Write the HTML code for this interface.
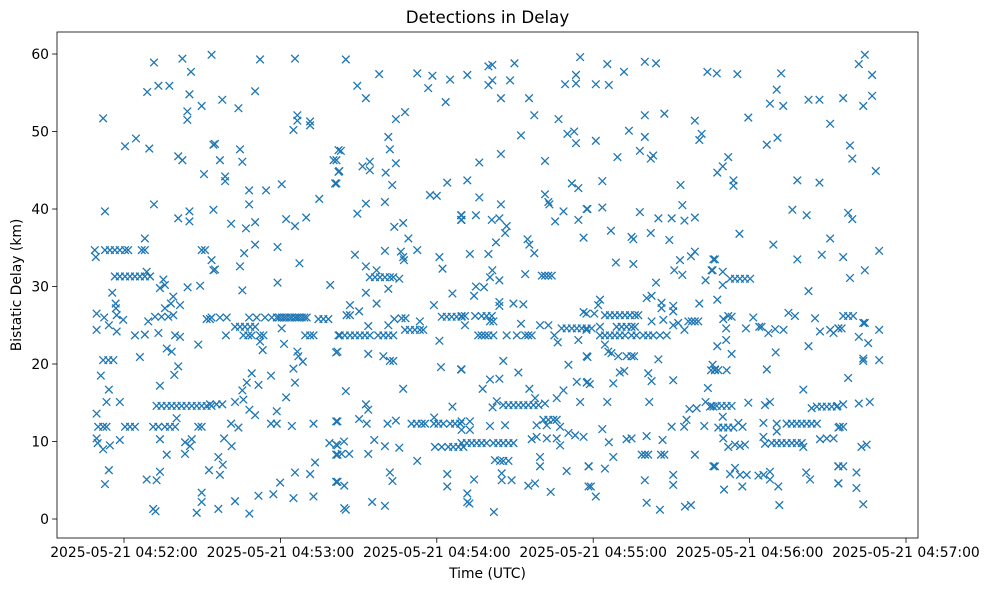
<!DOCTYPE html>
<html>
<head>
<meta charset="utf-8">
<style>
  html, body { margin: 0; padding: 0; background: #fff; }
  svg { display: block; font-family: "DejaVu Sans", "Liberation Sans", sans-serif; }
</style>
</head>
<body>
<svg id="chart" width="988" height="590" viewBox="0 0 988 590" xmlns="http://www.w3.org/2000/svg">
  <rect x="0" y="0" width="988" height="590" fill="#ffffff"/>
  <text x="487.5" y="23" font-size="16.7" text-anchor="middle" fill="#000">Detections in Delay</text>
  <g id="marks"></g>
  <rect x="57" y="32" width="861" height="506" fill="none" stroke="#000" stroke-width="0.8"/>
  <g id="xticks"></g>
  <g id="yticks"></g>
  <text x="487.5" y="578" font-size="13.9" text-anchor="middle" fill="#000">Time (UTC)</text>
  <text x="0" y="0" font-size="13.9" text-anchor="middle" fill="#000" transform="translate(21,285) rotate(-90)">Bistatic Delay (km)</text>
</svg>
<script>
// seconds after 04:51:00 UTC
const times = [
71.5,82.4,85.7,93.6,68.9,73.2,77.4,85.1,52.0,84.3,84.3,89.8,60.4,64.6,69.7,80.8,82.4,90.7,94.3,71.5,52.7,80.8,85.1,85.1,94.3,68.0,
48.8,52.7,54.6,56.5,58.4,60.4,61.6,66.8,68.0,89.8,91.1,49.2,93.6,94.3,
56.5,58.4,60.4,62.3,64.2,66.1,68.0,70.0,
68.7,75.1,73.8,75.7,55.5,84.4,89.2,56.8,56.9,78.9,78.0,81.5,75.7,49.5,52.4,57.2,59.7,69.3,71.9,74.4,77.0,78.9,91.7,93.0,49.5,54.2,57.2,64.2,68.0,73.2,79.6,81.5,88.5,76.4,78.3,
52.0,54.0,55.9,66.1,51.1,80.8,79.3,54.2,73.8,53.3,58.4,49.5,
72.5,74.4,76.4,78.3,80.2,82.1,84.0,86.0,87.9,89.8,91.7,93.6,80.2,
50.1,52.0,53.3,60.4,62.3,64.2,71.2,73.2,75.7,77.6,79.6,88.5,89.8,
49.5,49.9,52.0,54.6,58.4,73.8,83.4,85.3,86.0,76.4,83.4,54.2,52.7,68.7,72.5,73.8,92.6,89.8,89.8,87.9,71.2,72.1,
112.2,125.6,110.3,97.7,103.9,126.5,126.5,125.0,131.4,131.4,94.9,104.5,96.8,105.4,98.8,98.8,140.4,142.3,142.3,141.0,108.0,114.5,120.5,108.0,134.9,
101.1,106.8,110.3,122.2,125.6,129.9,110.3,106.1,118.9,94.9,104.5,127.3,105.4,118.9,139.1,
93.6,96.8,99.4,108.0,110.9,114.1,116.7,118.6,120.5,122.4,124.4,126.3,128.2,130.1,134.6,136.5,138.4,119.5,121.5,123.5,125.5,127.2,129.2,
102.6,104.5,106.4,108.4,110.3,120.5,
105.8,107.7,109.0,112.2,113.5,129.5,131.4,132.7,99.1,142.3,
112.2,113.2,121.4,126.5,126.9,128.6,125.0,141.4,109.0,116.4,107.1,111.6,125.6,105.4,105.8,122.2,
93.0,95.5,97.7,102.6,108.1,110.3,118.6,116.4,118.6,124.4,132.7,141.4,101.1,103.9,98.4,101.3,138.8,141.4,141.4,96.2,97.9,96.8,133.3,125.6,131.4,119.9,141.4,102.6,111.6,117.3,125.0,132.7,96.2,108.1,
145.1,157.9,172.5,178.3,185.1,149.5,176.7,152.8,183.4,164.3,167.8,161.4,162.0,143.2,141.5,142.6,141.5,151.5,154.3,154.3,160.4,164.3,162.9,184.0,177.4,180.0,152.8,160.1,149.5,163.7,167.1,189.3,189.3,169.1,
148.6,160.1,166.2,167.1,167.4,172.5,181.0,182.2,152.8,156.9,
154.3,156.3,158.2,160.1,162.0,163.3,165.6,
161.4,152.8,186.0,156.9,146.7,145.4,146.7,150.2,178.9,
181.9,183.8,185.7,187.6,189.5,
153.7,161.4,163.7,166.5,168.0,173.5,
167.8,169.7,171.6,173.5,174.8,
142.8,144.7,146.7,148.6,150.5,152.4,154.3,157.5,159.5,161.4,163.3,
141.9,153.7,159.5,162.0,163.3,181.0,181.6,189.3,145.1,167.1,152.8,153.7,186.0,150.2,153.1,141.9,161.1,164.3,
170.3,172.3,174.2,175.5,178.9,180.6,182.5,185.1,187.0,189.0,179.0,
144.4,141.9,141.9,143.5,146.4,153.7,156.0,160.1,165.6,
179.3,181.9,184.4,186.3,188.3,190.2,
172.5,162.0,163.0,184.0,184.0,141.9,144.5,155.2,160.1,144.5,145.1,
191.7,199.8,201.3,209.8,199.8,201.3,208.1,235.0,233.4,233.4,229.2,204.6,215.4,217.4,226.7,212.3,230.1,232.7,233.4,204.6,196.3,221.5,191.7,231.8,234.3,196.3,204.6,221.5,222.8,223.2,
189.5,189.5,195.0,201.1,204.0,228.6,225.4,234.3,237.5,206.8,206.2,202.7,214.8,215.5,217.4,236.3,192.7,199.8,201.3,200.4,204.0,213.9,
220.3,221.5,222.8,224.1,
195.0,198.1,194.3,204.0,204.0,209.4,213.2,236.3,
189.5,190.8,194.7,197.2,199.1,201.1,190.8,200.4,201.7,212.3,219.6,222.8,
195.9,197.2,198.5,199.8,201.7,206.8,210.7,213.9,215.1,216.4,
227.9,229.8,231.8,233.7,235.6,237.5,225.1,226.4,234.3,
237.5,189.5,205.5,211.3,230.5,200.4,204.0,197.6,215.5,228.6,233.7,237.5,226.0,235.0,203.0,201.4,
205.5,207.5,209.4,211.3,213.2,215.1,217.1,219.0,221.5,217.7,
220.9,222.8,224.7,226.0,218.3,222.2,227.3,230.5,233.1,236.3,189.5,192.7,189.5,192.7,200.4,206.2,
189.5,191.5,193.4,195.3,197.2,199.1,201.7,203.6,205.5,207.5,209.4,216.4,218.3,222.2,226.0,227.3,
204.3,205.5,207.5,202.3,219.6,219.6,238.2,194.3,204.9,204.9,208.7,215.1,217.7,229.8,223.7,238.2,191.7,191.7,192.5,201.9,
245.4,251.8,259.8,264.1,241.0,246.0,283.8,259.8,267.3,279.0,253.7,259.8,281.6,280.7,241.0,249.3,257.9,263.0,262.1,243.5,273.5,274.2,237.8,243.5,257.9,265.0,270.1,275.0,279.0,
246.8,254.7,255.4,262.1,269.2,248.7,255.4,273.3,277.5,279.0,271.1,274.2,286.1,285.4,283.1,264.1,260.5,262.4,242.6,241.9,266.2,266.2,270.7,270.7,280.7,237.4,240.4,
244.5,246.4,248.3,250.2,252.2,254.1,256.0,257.3,
262.4,266.9,270.7,272.6,275.0,276.5,277.8,279.0,280.3,237.4,239.4,242.6,
242.6,244.5,246.4,248.3,250.2,252.2,254.7,256.6,259.2,261.1,263.0,265.6,268.2,
249.0,250.9,252.8,254.7,256.0,
244.5,245.8,247.0,249.6,252.8,254.7,255.7,237.8,265.0,250.2,251.9,261.1,262.4,270.7,237.8,238.7,247.7,285.2,286.7,284.0,245.4,261.5,276.9,279.7,283.1,284.8,286.1,275.8,274.9,270.1,282.6,243.5,246.0,252.8,254.7,260.5,266.6,
258.6,259.9,261.1,266.0,267.3,247.7,279.0,238.3,244.5,286.1,259.8,270.7,270.7,239.1,241.0,260.5,265.6,275.2,277.5,
287.4,295.3,312.1,310.4,307.8,312.9,322.6,326.8,299.5,330.9,306.6,310.7,291.8,289.7,287.6,293.8,293.8,318.3,326.8,316.4,321.9,296.1,309.1,330.9,286.7,318.3,327.7,285.8,289.7,
292.5,294.4,296.3,298.2,300.2,289.7,322.6,287.6,
314.9,317.4,289.9,291.8,293.1,291.0,301.4,298.6,303.7,304.6,307.2,309.8,313.0,325.1,327.0,330.9,332.2,334.1,
287.6,291.0,293.1,310.0,322.6,285.8,286.7,291.2,288.0,306.6,320.6,
285.4,287.4,289.3,291.2,293.1,299.5,305.9,307.8,323.8,325.8,327.7,329.6,331.5,333.4,
289.7,288.0,289.9,291.8,293.8,295.7,297.3,
314.2,316.2,318.1,320.0,321.9,323.8,325.8,305.3,310.4,310.4,334.1,
308.5,310.4,312.3,314.2,316.2,318.1,320.0,289.9,291.8,294.4,296.3,298.2,305.3,305.9,320.6,327.0,329.6,332.2,
286.7,294.4,292.5,296.3,298.9,303.4,305.3,307.8,307.8,290.2,297.2,311.0,321.7,323.2,334.1,334.1,311.4,
344.2,341.9,347.0,335.9,343.6,347.0,338.5,339.4,348.4,337.8,339.4,335.9,349.7,344.2,338.5,335.9,337.8,339.7,334.0,335.3,343.6,344.2,341.9,345.5,349.7,343.6,343.6,349.7,337.8,
333.7,335.9,341.9,346.1,334.6,335.9,342.9,344.9,334.0,335.9,341.0,334.0,341.0,343.6
];
// bistatic delay, km
const delays = [
58.9,59.4,57.7,59.9,55.1,55.9,55.9,54.8,51.7,52.6,51.5,53.3,48.1,49.1,47.8,46.8,46.3,44.5,48.3,40.6,39.7,38.8,39.7,38.4,39.9,36.2,
34.7,34.7,34.7,34.7,34.7,34.7,34.7,34.7,34.7,34.7,34.7,33.8,33.4,32.1,
31.3,31.3,31.3,31.3,31.3,31.3,31.3,31.3,
31.9,30.9,29.8,30.2,29.2,29.9,30.1,27.8,27.2,28.7,27.8,27.6,27.2,26.5,26.0,26.3,25.7,25.5,26.1,26.1,26.1,26.3,25.8,25.8,24.4,25.0,24.2,23.7,23.8,24.0,23.7,23.5,22.5,22.0,21.6,
20.5,20.5,20.5,20.9,18.5,19.7,18.6,16.7,17.2,15.1,15.1,13.6,
14.6,14.6,14.6,14.6,14.6,14.6,14.6,14.6,14.6,14.6,14.6,14.6,13.0,
11.9,11.9,11.9,11.9,11.9,11.9,11.9,11.9,11.9,11.9,11.9,11.9,11.9,
10.4,9.8,9.0,9.5,10.2,10.3,9.9,9.4,10.3,8.3,8.4,6.3,4.5,5.1,5.0,6.1,6.3,3.4,2.2,0.8,1.3,1.0,
59.3,59.4,55.2,54.1,53.0,52.1,51.4,50.2,51.3,50.8,48.4,47.7,46.3,46.1,44.2,43.6,46.3,47.6,44.8,43.3,42.4,42.4,43.2,40.6,41.3,
38.1,37.5,38.3,38.7,37.8,38.9,35.4,34.3,35.1,32.2,32.6,33.0,29.5,30.5,30.2,
26.0,26.0,26.0,26.0,26.0,26.0,26.0,26.0,26.0,26.0,26.0,26.0,26.0,26.0,25.8,25.8,25.8,26.0,26.0,26.0,26.0,26.0,26.0,
24.8,24.8,24.8,24.8,24.8,24.6,
23.7,23.7,23.7,23.7,23.7,23.7,23.7,23.7,23.7,23.7,
22.9,21.8,22.6,21.6,21.0,20.3,19.4,21.5,18.8,18.5,17.6,17.3,17.6,16.6,15.4,15.7,
14.8,14.8,14.8,15.1,14.1,13.4,13.9,12.3,12.3,12.0,12.3,12.6,12.3,11.8,10.4,9.4,9.8,9.6,8.3,8.0,7.0,5.7,7.3,6.0,5.8,4.7,4.8,2.3,3.0,3.2,2.7,2.9,1.3,0.7,
59.3,57.4,57.5,57.2,56.7,55.9,55.6,54.3,53.8,51.6,52.5,49.3,47.7,47.5,46.3,44.9,43.3,45.5,46.1,45.0,44.7,45.9,43.1,43.4,41.8,41.7,40.7,40.9,39.4,37.7,38.2,39.2,38.6,36.2,
34.1,34.6,34.5,33.8,33.4,34.7,33.8,32.3,32.6,32.1,
31.2,31.2,31.2,31.2,31.2,31.2,31.0,
29.7,29.2,29.1,27.8,27.6,26.3,26.3,26.8,27.6,
26.1,26.1,26.1,26.1,26.1,
24.9,25.0,25.8,25.9,25.9,25.5,
24.4,24.4,24.4,24.4,24.4,
23.7,23.7,23.7,23.7,23.7,23.7,23.7,23.7,23.7,23.7,23.7,
21.6,21.3,21.0,20.4,20.4,23.0,19.6,19.3,16.5,16.8,14.8,14.1,14.5,12.9,12.3,12.6,12.3,12.7,
12.3,12.3,12.3,12.3,12.3,12.3,12.3,12.3,12.3,12.3,13.1,
10.0,9.5,8.3,8.4,8.4,8.4,10.2,9.4,9.2,
9.3,9.3,9.3,9.3,9.3,9.3,
7.5,6.0,4.9,5.8,4.2,4.8,4.3,2.2,1.7,1.4,1.2,
57.3,58.4,58.6,58.8,56.0,56.6,56.6,59.6,57.3,56.2,56.1,54.3,54.3,52.1,51.6,49.5,49.7,50.0,48.5,47.1,46.0,46.2,43.7,43.3,42.7,41.5,40.6,41.9,40.9,40.6,
39.2,38.6,39.2,38.6,38.8,39.7,38.4,38.6,40.0,37.8,36.9,35.7,36.1,35.4,34.3,36.3,34.2,34.2,32.1,31.2,30.8,31.6,
31.4,31.4,31.4,31.4,
30.0,29.9,28.8,28.0,27.5,27.8,27.7,26.7,
26.2,26.2,26.2,26.2,26.2,26.2,25.0,25.5,25.5,25.2,25.0,25.0,
23.7,23.7,23.7,23.7,23.7,23.7,23.7,23.7,23.7,23.7,
24.6,24.6,24.6,24.6,24.6,24.6,23.7,22.8,23.1,
21.0,19.3,20.4,18.9,19.9,18.0,18.1,16.8,16.8,16.6,17.7,17.6,15.6,15.1,15.2,14.4,
14.7,14.7,14.7,14.7,14.7,14.7,14.7,14.7,14.9,15.6,
12.8,12.8,12.8,12.8,12.1,12.1,11.9,11.1,10.8,10.6,12.6,12.6,11.5,11.5,12.0,12.1,
9.8,9.8,9.8,9.8,9.8,9.8,9.8,9.8,9.8,9.8,9.8,10.3,10.6,10.4,10.4,9.5,
7.5,7.5,7.5,7.6,8.0,6.8,6.8,5.1,5.9,5.0,5.0,4.3,4.6,6.2,3.5,4.2,3.3,2.2,2.0,0.9,
58.7,57.7,59.0,58.8,56.1,56.0,57.7,52.1,52.3,51.4,50.1,49.3,49.7,48.9,48.8,46.7,47.5,46.9,46.5,43.6,43.1,40.5,40.0,40.2,39.6,38.8,38.8,38.5,38.9,
37.2,36.4,36.1,36.9,36.0,33.1,32.9,33.4,33.9,34.5,32.1,31.5,33.5,32.1,30.8,30.5,28.5,28.8,28.3,27.6,27.9,27.2,27.5,26.8,27.8,26.5,26.5,
26.3,26.3,26.3,26.3,26.3,26.3,26.3,26.3,
25.5,25.7,25.0,25.3,24.4,25.5,25.5,25.5,25.5,24.4,24.6,24.8,
23.7,23.7,23.7,23.7,23.7,23.7,23.7,23.7,23.7,23.7,23.7,23.7,23.7,
24.8,24.8,24.8,24.8,24.8,
22.5,21.6,21.4,21.0,21.0,21.0,21.0,20.9,20.6,18.9,19.1,18.8,17.8,17.9,17.7,17.4,17.5,19.2,19.2,16.9,15.1,15.1,14.2,14.3,15.1,14.5,14.5,12.8,11.9,11.9,12.0,11.6,9.9,10.3,10.4,10.7,10.2,
8.3,8.3,8.3,8.3,8.3,8.0,8.3,6.8,6.5,6.8,5.0,5.7,4.4,4.2,2.9,2.1,1.2,1.6,1.8,
57.5,57.4,57.5,55.4,53.6,53.3,54.1,54.1,51.8,51.0,48.3,49.2,46.7,45.5,44.7,43.7,43.0,43.7,43.4,39.9,39.2,36.8,35.4,36.2,33.5,33.5,34.1,32.1,31.9,
31.0,31.0,31.0,31.0,31.0,30.2,29.4,28.3,
26.6,26.2,25.8,26.2,26.1,24.6,26.0,24.6,24.8,24.8,24.0,24.5,24.4,25.9,24.2,24.4,24.0,24.6,
22.3,23.1,21.3,21.5,22.3,19.9,19.3,19.2,19.2,19.3,16.7,
14.6,14.6,14.6,14.6,14.6,15.0,14.7,15.1,14.3,14.5,14.5,14.5,14.5,14.5,
13.2,11.8,11.8,11.8,11.8,12.4,11.9,
12.3,12.3,12.3,12.3,12.3,12.3,12.3,12.4,12.3,11.3,11.8,
9.8,9.8,9.8,9.8,9.8,9.8,9.8,10.4,9.3,9.6,9.4,9.6,10.6,9.7,9.3,10.3,10.4,10.4,
6.8,6.6,5.8,5.7,5.7,5.6,5.7,6.1,5.1,3.8,4.2,4.2,6.0,5.1,6.8,4.6,1.8,
59.9,58.7,57.3,54.3,53.3,54.6,48.2,46.5,44.9,39.5,38.7,33.8,34.6,32.1,31.1,26.2,26.2,26.2,24.6,24.6,25.3,25.3,23.5,22.7,24.4,20.7,20.4,20.5,18.2,
14.6,14.8,14.9,15.1,11.9,11.9,9.3,9.6,6.8,6.8,6.0,4.6,4.0,1.9
];
const xTickValues = [60, 120, 180, 240, 300, 360];
const xTickLabels = ["2025-05-21 04:52:00","2025-05-21 04:53:00","2025-05-21 04:54:00","2025-05-21 04:55:00","2025-05-21 04:56:00","2025-05-21 04:57:00"];
const yTickValues = [0, 10, 20, 30, 40, 50, 60];

const NS = "http://www.w3.org/2000/svg";
const PL = 57, PR = 918, PT = 32, PB = 538;
const X0 = 34.3, X1 = 364.6, Y0 = -2.45, Y1 = 62.84;
function xScale(t) { return PL + (t - X0) / (X1 - X0) * (PR - PL); }
function yScale(d) { return PB - (d - Y0) / (Y1 - Y0) * (PB - PT); }

const marks = document.getElementById("marks");
const n = Math.min(times.length, delays.length);
for (let i = 0; i < n; i++) {
  const cx = xScale(times[i]), cy = yScale(delays[i]), r = 3.8;
  const p = document.createElementNS(NS, "path");
  p.setAttribute("d", `M${cx-r},${cy-r}L${cx+r},${cy+r}M${cx-r},${cy+r}L${cx+r},${cy-r}`);
  p.setAttribute("stroke", "#1f77b4");
  p.setAttribute("stroke-width", "1.3");
  p.setAttribute("fill", "none");
  
  
  marks.appendChild(p);
}

const xg = document.getElementById("xticks");
xTickValues.forEach((v, i) => {
  const x = xScale(v);
  const l = document.createElementNS(NS, "line");
  l.setAttribute("x1", x); l.setAttribute("x2", x);
  l.setAttribute("y1", PB); l.setAttribute("y2", PB + 4.9);
  l.setAttribute("stroke", "#000"); l.setAttribute("stroke-width", "0.8");
  
  
  xg.appendChild(l);
  const t = document.createElementNS(NS, "text");
  t.setAttribute("x", x); t.setAttribute("y", PB + 19);
  t.setAttribute("font-size", "13.9"); t.setAttribute("text-anchor", "middle");
  t.textContent = xTickLabels[i];
  
  
  xg.appendChild(t);
});

const yg = document.getElementById("yticks");
yTickValues.forEach(v => {
  const y = yScale(v);
  const l = document.createElementNS(NS, "line");
  l.setAttribute("x1", PL - 4.9); l.setAttribute("x2", PL);
  l.setAttribute("y1", y); l.setAttribute("y2", y);
  l.setAttribute("stroke", "#000"); l.setAttribute("stroke-width", "0.8");
  
  
  yg.appendChild(l);
  const t = document.createElementNS(NS, "text");
  t.setAttribute("x", PL - 8); t.setAttribute("y", y + 5);
  t.setAttribute("font-size", "13.9"); t.setAttribute("text-anchor", "end");
  t.textContent = String(v);
  
  
  yg.appendChild(t);
});
</script>
</body>
</html>
